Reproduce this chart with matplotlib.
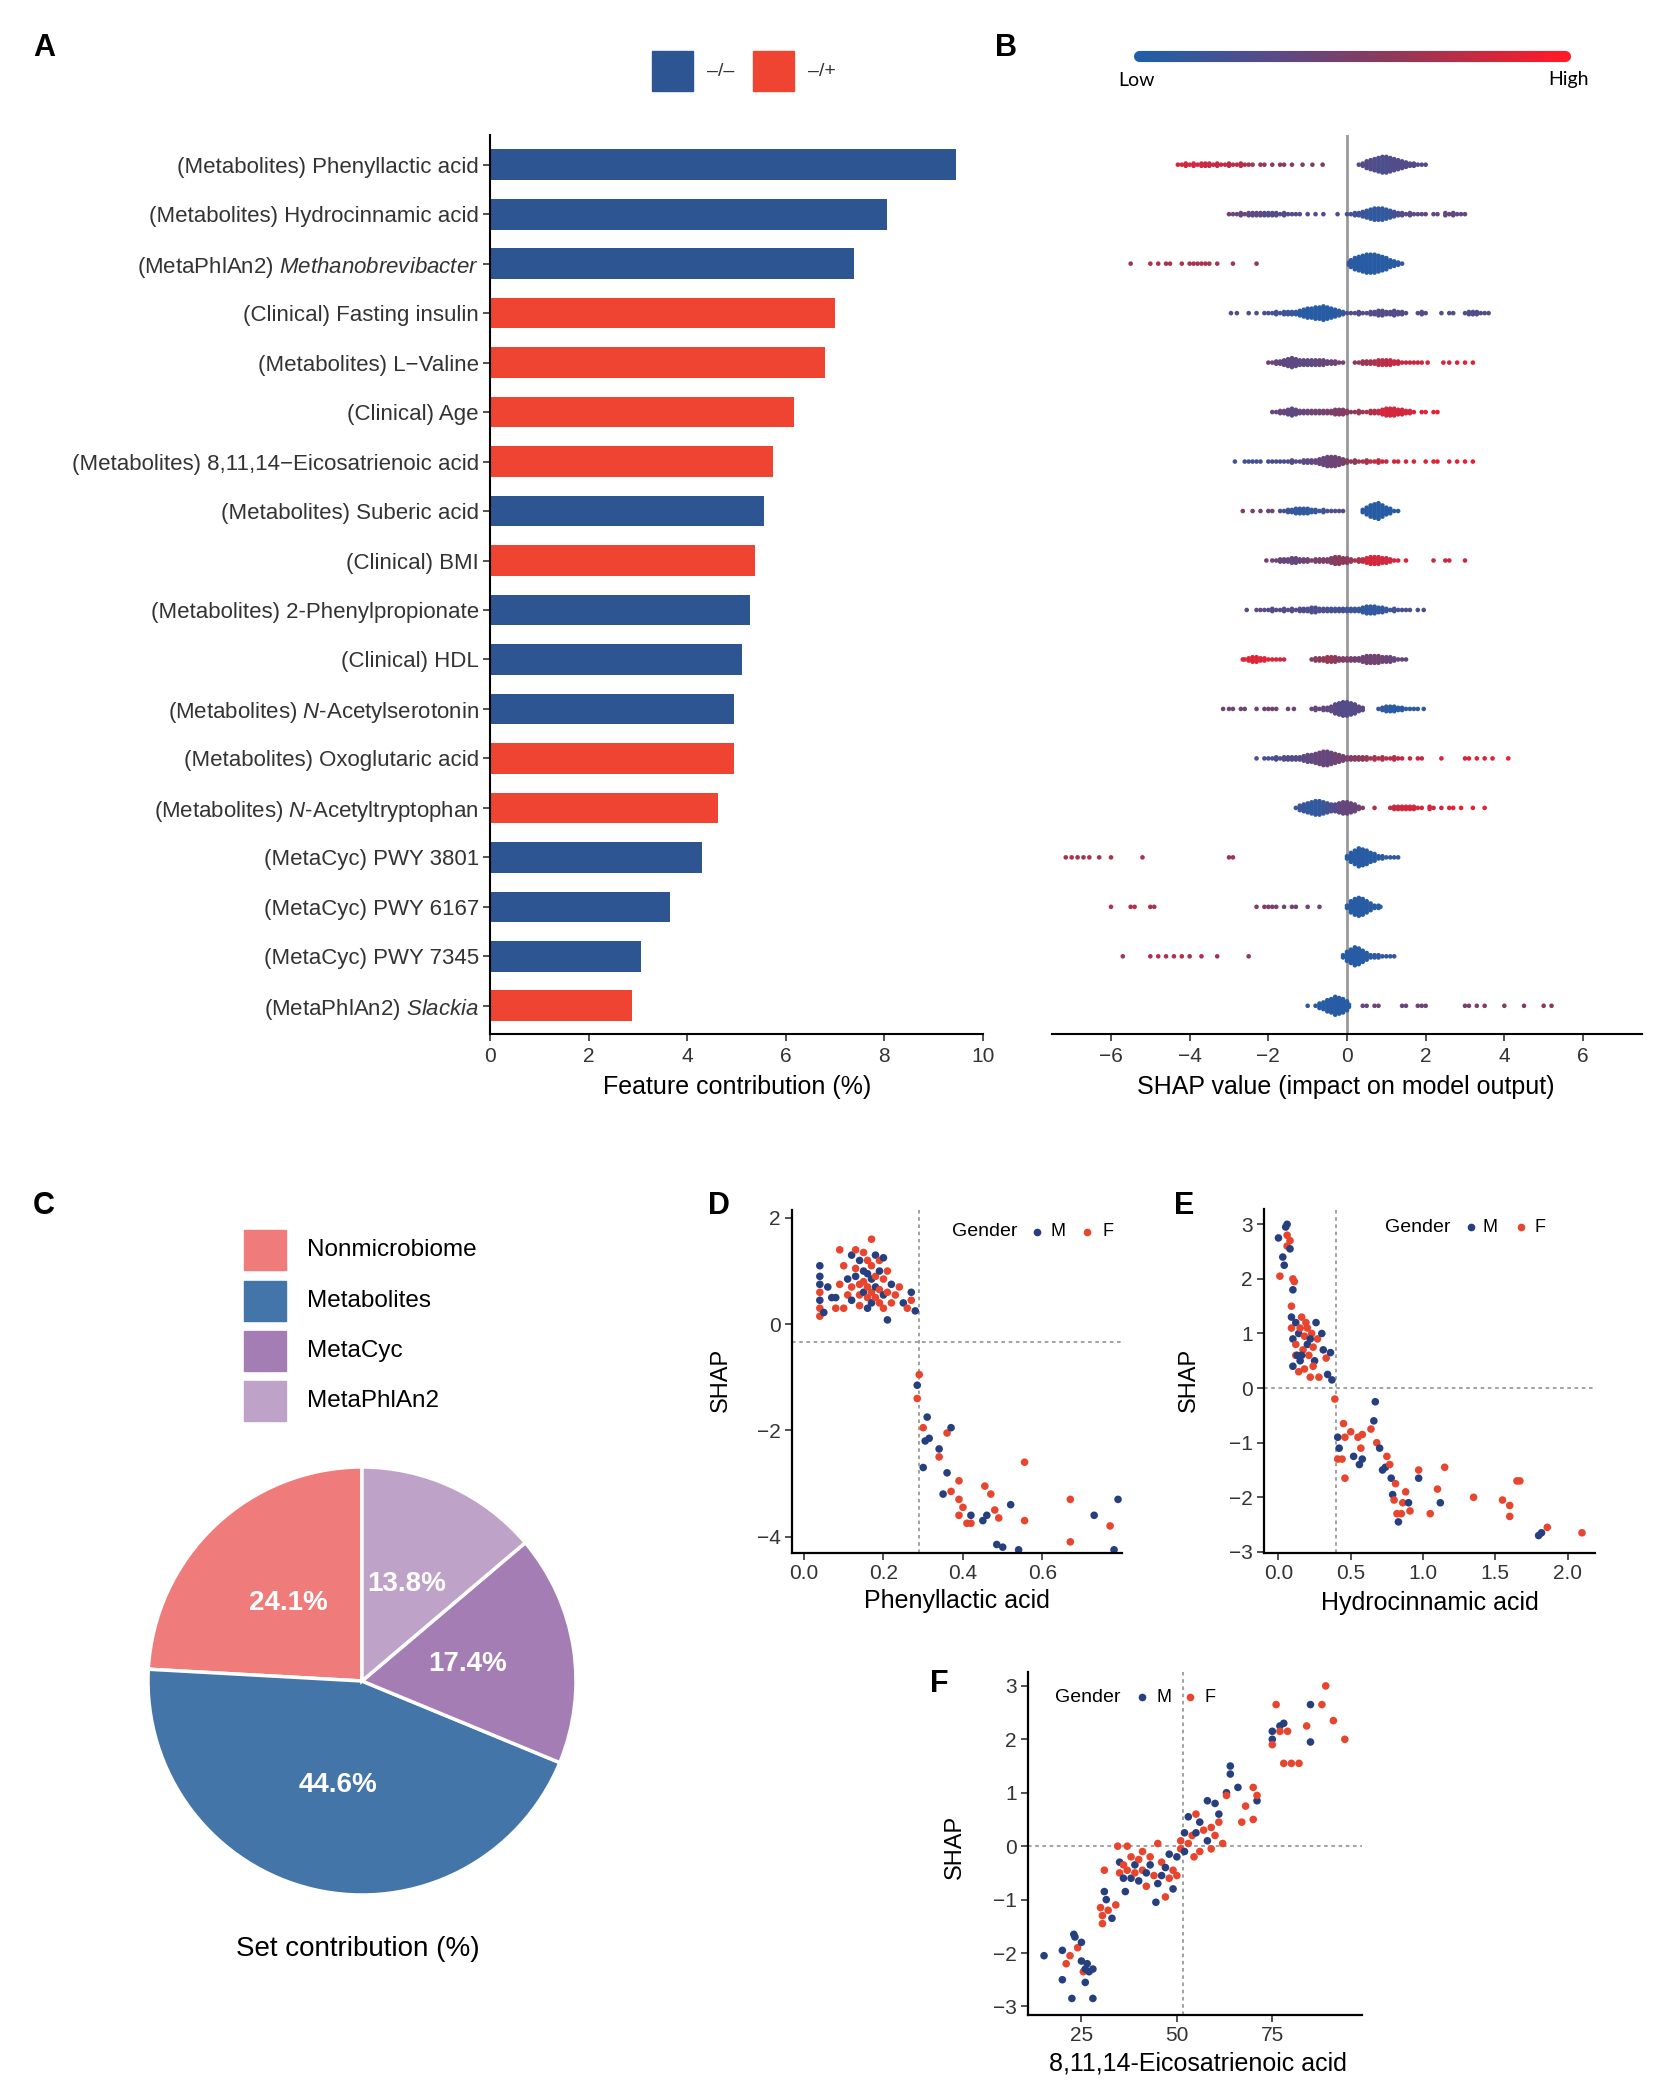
import numpy as np
import matplotlib
matplotlib.use("Agg")
import matplotlib.pyplot as plt
from matplotlib.colors import LinearSegmentedColormap
from matplotlib.patches import Rectangle
from matplotlib.collections import LineCollection
from matplotlib.lines import Line2D

plt.rcParams['font.family'] = ['Liberation Sans', 'DejaVu Sans']
plt.rcParams['mathtext.fontset'] = 'custom'
plt.rcParams['mathtext.rm'] = 'Liberation Sans'
plt.rcParams['mathtext.it'] = 'Liberation Sans:italic'

# ---------------- Panel A data ----------------
features = [
    "(Metabolites) Phenyllactic acid",
    "(Metabolites) Hydrocinnamic acid",
    r"(MetaPhlAn2) $\mathit{Methanobrevibacter}$",
    "(Clinical) Fasting insulin",
    "(Metabolites) L\u2212Valine",
    "(Clinical) Age",
    "(Metabolites) 8,11,14\u2212Eicosatrienoic acid",
    "(Metabolites) Suberic acid",
    "(Clinical) BMI",
    "(Metabolites) 2-Phenylpropionate",
    "(Clinical) HDL",
    r"(Metabolites) $\mathit{N}$-Acetylserotonin",
    "(Metabolites) Oxoglutaric acid",
    r"(Metabolites) $\mathit{N}$-Acetyltryptophan",
    "(MetaCyc) PWY 3801",
    "(MetaCyc) PWY 6167",
    "(MetaCyc) PWY 7345",
    r"(MetaPhlAn2) $\mathit{Slackia}$",
]
contribution = [9.45, 8.06, 7.39, 7.00, 6.80, 6.16, 5.75, 5.56, 5.37, 5.28,
                5.11, 4.95, 4.95, 4.63, 4.30, 3.65, 3.07, 2.88]
direction = ['-/-', '-/-', '-/-', '-/+', '-/+', '-/+', '-/+', '-/-', '-/+', '-/-',
             '-/-', '-/-', '-/+', '-/+', '-/-', '-/-', '-/-', '-/+']
dir_labels = ['\u2013/\u2013', '\u2013/+']

# ---------------- Panel B data: (SHAP value, number of samples, feature level 0..1) ----------------
shap_rows = [
    [(-4.3,1,.85),(-4.2,1,.85),(-4.1,2,.85),(-4.0,1,.85),(-3.9,2,.85),(-3.8,1,.8),(-3.7,2,.85),(-3.6,2,.8),
     (-3.5,2,.8),(-3.4,1,.8),(-3.3,2,.8),(-3.2,1,.8),(-3.1,1,.8),(-3.0,2,.75),(-2.9,1,.75),(-2.8,1,.75),
     (-2.7,2,.75),(-2.6,1,.75),(-2.5,1,.7),(-2.4,1,.7),(-2.2,1,.65),(-2.1,1,.65),(-1.9,1,.6),(-1.7,1,.6),
     (-1.6,1,.55),(-1.4,1,.55),(-1.13,1,.5),(-0.88,1,.5),(-0.62,1,.5),
     (0.3,1,.3),(0.4,2,.3),(0.5,4,.3),(0.6,5,.28),(0.7,6,.28),(0.8,7,.25),(0.9,8,.25),(1.0,8,.25),
     (1.1,7,.28),(1.2,6,.28),(1.3,5,.3),(1.4,4,.3),(1.5,3,.3),(1.6,2,.3),(1.7,2,.3),(1.8,1,.3),(1.9,1,.3),
     (2.0,1,.3)],
    [(-3.0,1,.45),(-2.9,1,.45),(-2.8,1,.4),(-2.7,2,.4),(-2.6,1,.4),(-2.5,2,.35),(-2.4,2,.35),(-2.3,2,.35),
     (-2.2,2,.35),(-2.1,2,.3),(-2.0,2,.3),(-1.9,2,.3),(-1.8,2,.3),(-1.7,1,.3),(-1.6,2,.3),(-1.5,1,.3),
     (-1.4,1,.3),(-1.3,1,.3),(-1.2,1,.3),(-1.0,1,.3),(-0.8,1,.3),(-0.6,1,.3),(-0.24,1,.3),
     (0.0,1,.25),(0.1,1,.2),(0.2,2,.2),(0.3,2,.2),(0.4,3,.15),(0.5,4,.15),(0.6,5,.1),(0.7,6,.1),(0.8,6,.1),
     (0.9,6,.1),(1.0,5,.1),(1.1,4,.15),(1.2,3,.2),(1.3,2,.25),(1.4,2,.3),(1.5,1,.3),(1.6,2,.35),(1.7,1,.35),
     (1.8,1,.35),(1.9,1,.35),(2.0,1,.4),(2.2,1,.35),(2.3,1,.4),(2.5,2,.35),(2.6,1,.4),(2.7,2,.35),
     (2.8,1,.4),(2.9,1,.35),(3.0,1,.4)],
    [(-5.5,1,.65),(-5.0,1,.7),(-4.8,1,.7),(-4.6,1,.7),(-4.5,1,.7),(-4.2,1,.7),(-4.0,1,.7),(-3.9,1,.7),
     (-3.8,1,.7),(-3.7,1,.7),(-3.6,1,.7),(-3.5,1,.7),(-3.3,1,.7),(-2.9,1,.65),(-2.3,1,.6),
     (0.05,2,.1),(0.1,4,.1),(0.2,6,.05),(0.3,7,.05),(0.4,8,.05),(0.5,9,.05),(0.6,9,.05),(0.7,9,.05),
     (0.8,8,.05),(0.9,7,.05),(1.0,6,.05),(1.1,4,.05),(1.2,3,.05),(1.3,2,.1),(1.4,1,.1)],
    [(-2.95,1,.3),(-2.8,1,.3),(-2.5,1,.3),(-2.3,1,.25),(-2.1,1,.25),(-2.0,1,.25),(-1.9,1,.25),(-1.8,2,.2),
     (-1.7,1,.2),(-1.6,2,.2),(-1.5,2,.15),(-1.4,2,.15),(-1.3,2,.1),(-1.2,3,.05),(-1.1,4,.05),(-1.0,5,.05),
     (-0.9,5,.05),(-0.8,6,.05),(-0.7,6,.05),(-0.6,7,.05),(-0.5,6,.05),(-0.4,5,.05),(-0.3,4,.05),
     (-0.2,3,.1),(-0.1,2,.1),
     (0.0,1,.25),(0.1,1,.3),(0.2,1,.3),(0.3,2,.3),(0.4,1,.3),(0.5,1,.3),(0.6,2,.3),(0.7,2,.3),(0.8,3,.3),
     (0.9,3,.3),(1.0,2,.3),(1.1,2,.3),(1.2,3,.3),(1.3,2,.3),(1.4,2,.3),(1.5,1,.3),(1.8,1,.3),(1.9,2,.3),
     (2.0,1,.3),(2.4,1,.25),(2.6,1,.3),(2.7,1,.3),(3.0,1,.25),(3.1,2,.3),(3.2,2,.25),(3.3,2,.3),
     (3.4,1,.3),(3.5,1,.25),(3.6,1,.3)],
    [(-2.0,1,.45),(-1.9,1,.45),(-1.8,2,.4),(-1.7,2,.4),(-1.6,3,.35),(-1.5,4,.35),(-1.4,5,.35),(-1.3,4,.35),
     (-1.2,3,.35),(-1.1,3,.35),(-1.0,3,.35),(-0.9,3,.35),(-0.8,3,.35),(-0.7,3,.4),(-0.6,3,.4),(-0.5,2,.4),
     (-0.4,2,.4),(-0.3,2,.45),(-0.2,1,.45),(-0.1,1,.45),
     (0.2,1,.6),(0.3,1,.6),(0.4,2,.65),(0.5,2,.65),(0.6,2,.7),(0.7,2,.7),(0.8,3,.75),(0.9,3,.75),
     (1.0,3,.75),(1.1,3,.8),(1.2,2,.8),(1.3,2,.8),(1.4,1,.8),(1.5,1,.8),(1.6,1,.8),(1.7,1,.8),(1.8,1,.8),
     (1.9,1,.85),(2.05,1,.85),(2.45,1,.85),(2.6,1,.85),(2.8,1,.85),(3.0,1,.9),(3.2,1,.9)],
    [(-1.9,1,.4),(-1.8,1,.4),(-1.7,2,.4),(-1.6,2,.4),(-1.5,3,.35),(-1.4,4,.35),(-1.3,3,.35),(-1.2,2,.4),
     (-1.1,2,.4),(-1.0,2,.4),(-0.9,2,.45),(-0.8,2,.45),(-0.7,2,.45),(-0.6,2,.45),(-0.5,2,.5),(-0.4,2,.5),
     (-0.3,3,.5),(-0.2,3,.55),(-0.1,3,.55),(0.0,2,.55),(0.1,1,.6),(0.2,1,.6),(0.3,2,.65),(0.4,1,.65),
     (0.5,1,.7),(0.6,2,.7),(0.7,2,.75),(0.8,2,.75),(0.9,3,.85),(1.0,4,.85),(1.1,4,.85),(1.2,4,.85),
     (1.3,3,.85),(1.4,3,.85),(1.5,2,.85),(1.6,2,.85),(1.7,1,.85),(1.9,1,.85),(2.0,1,.9),(2.2,1,.9),
     (2.3,1,.9)],
    [(-2.85,1,.2),(-2.6,1,.2),(-2.5,1,.2),(-2.4,1,.2),(-2.3,1,.2),(-2.2,1,.2),(-2.0,1,.2),(-1.9,1,.25),
     (-1.8,1,.25),(-1.7,1,.25),(-1.6,1,.25),(-1.5,1,.3),(-1.4,2,.3),(-1.3,1,.3),(-1.2,1,.3),(-1.1,2,.35),
     (-1.0,2,.35),(-0.9,2,.35),(-0.8,2,.4),(-0.7,3,.4),(-0.6,4,.4),(-0.5,5,.4),(-0.4,5,.45),(-0.3,5,.45),
     (-0.2,4,.45),(-0.1,3,.5),(0.0,2,.55),(0.1,1,.6),(0.2,2,.6),(0.3,1,.65),(0.4,1,.7),(0.5,2,.7),
     (0.6,1,.75),(0.7,1,.75),(0.8,2,.8),(0.9,1,.8),(1.0,1,.8),(1.2,1,.85),(1.3,1,.85),(1.5,1,.85),
     (1.7,1,.85),(2.0,1,.9),(2.2,1,.9),(2.3,1,.9),(2.6,1,.9),(2.8,1,.9),(3.0,1,.95),(3.2,1,.95)],
    [(-2.65,1,.5),(-2.4,1,.5),(-2.2,1,.45),(-2.0,1,.45),(-1.9,1,.4),(-1.7,1,.3),(-1.6,1,.2),(-1.5,2,.15),
     (-1.4,2,.15),(-1.3,3,.1),(-1.2,3,.1),(-1.1,3,.1),(-1.0,3,.1),(-0.9,2,.1),(-0.8,2,.15),(-0.7,1,.15),
     (-0.6,2,.2),(-0.5,1,.2),(-0.4,1,.25),(-0.3,1,.25),(-0.2,1,.3),(-0.1,1,.3),
     (0.4,2,.05),(0.5,4,.05),(0.6,6,.05),(0.7,7,.05),(0.8,8,.05),(0.9,6,.05),(1.0,4,.05),(1.1,3,.05),
     (1.2,1,.05),(1.3,1,.05)],
    [(-2.05,1,.45),(-1.9,1,.45),(-1.8,1,.45),(-1.7,2,.4),(-1.6,2,.4),(-1.5,2,.4),(-1.4,3,.4),(-1.3,3,.4),
     (-1.2,2,.4),(-1.1,2,.45),(-1.0,2,.45),(-0.9,1,.5),(-0.8,2,.5),(-0.7,2,.5),(-0.6,2,.5),(-0.5,2,.55),
     (-0.4,3,.55),(-0.3,4,.55),(-0.2,4,.6),(-0.1,3,.6),(0.0,3,.6),(0.1,2,.65),(0.2,1,.65),(0.3,2,.7),
     (0.4,2,.75),(0.5,3,.85),(0.6,4,.85),(0.7,4,.85),(0.8,4,.85),(0.9,3,.85),(1.0,3,.85),(1.1,2,.85),
     (1.2,1,.85),(1.3,1,.85),(1.5,1,.85),(2.2,1,.8),(2.5,1,.8),(2.6,1,.8),(3.0,1,.8)],
    [(-2.55,1,.35),(-2.3,1,.35),(-2.2,1,.35),(-2.1,1,.35),(-2.0,1,.3),(-1.9,2,.3),(-1.8,1,.3),(-1.7,1,.3),
     (-1.6,2,.3),(-1.5,1,.3),(-1.4,2,.3),(-1.3,1,.3),(-1.2,2,.3),(-1.1,2,.3),(-1.0,2,.25),(-0.9,3,.25),
     (-0.8,3,.25),(-0.7,2,.25),(-0.6,2,.25),(-0.5,2,.25),(-0.4,2,.2),(-0.3,2,.2),(-0.2,2,.2),(-0.1,2,.2),
     (0.0,2,.2),(0.1,2,.2),(0.2,2,.15),(0.3,2,.15),(0.4,3,.1),(0.5,4,.1),(0.6,4,.1),(0.7,4,.1),(0.8,3,.1),
     (0.9,3,.1),(1.0,2,.15),(1.1,1,.15),(1.2,2,.2),(1.3,1,.2),(1.4,1,.2),(1.5,1,.25),(1.6,1,.25),
     (1.8,1,.25),(1.95,1,.25)],
    [(-2.65,1,.9),(-2.6,1,.9),(-2.5,2,.9),(-2.4,3,.9),(-2.3,3,.9),(-2.2,2,.9),(-2.1,2,.9),(-2.0,1,.9),
     (-1.9,1,.9),(-1.8,1,.85),(-1.7,1,.85),(-1.6,1,.85),
     (-0.9,1,.55),(-0.8,2,.55),(-0.7,2,.6),(-0.6,2,.6),(-0.5,3,.65),(-0.4,3,.65),(-0.3,3,.6),(-0.2,2,.55),
     (-0.1,2,.5),(0.0,2,.5),(0.1,2,.5),(0.2,2,.45),(0.3,2,.45),(0.4,3,.45),(0.5,4,.45),(0.6,4,.45),
     (0.7,4,.45),(0.8,4,.45),(0.9,3,.45),(1.0,3,.4),(1.1,3,.4),(1.2,2,.4),(1.3,1,.4),(1.4,1,.4),(1.5,1,.4)],
    [(-3.15,1,.45),(-3.0,1,.45),(-2.9,1,.45),(-2.7,1,.45),(-2.6,1,.45),(-2.3,1,.45),(-2.1,1,.45),
     (-2.0,1,.45),(-1.9,1,.45),(-1.8,1,.45),(-1.5,1,.45),(-1.35,1,.45),(-0.9,1,.4),(-0.8,2,.4),(-0.7,1,.4),
     (-0.6,2,.4),(-0.5,2,.35),(-0.4,3,.35),(-0.3,5,.35),(-0.2,6,.3),(-0.1,7,.3),(0.0,7,.3),(0.1,6,.3),
     (0.2,5,.3),(0.3,3,.35),(0.4,2,.35),
     (0.8,1,.1),(0.9,2,.1),(1.0,3,.1),(1.1,3,.05),(1.2,3,.05),(1.3,2,.05),(1.4,2,.05),(1.5,1,.1),
     (1.6,1,.1),(1.7,1,.1),(1.8,1,.1),(1.95,1,.1)],
    [(-2.3,1,.25),(-2.1,1,.25),(-2.0,1,.25),(-1.9,1,.25),(-1.8,2,.25),(-1.7,1,.25),(-1.6,2,.3),(-1.5,2,.3),
     (-1.4,2,.3),(-1.3,2,.3),(-1.2,2,.3),(-1.1,3,.35),(-1.0,4,.35),(-0.9,4,.35),(-0.8,5,.4),(-0.7,6,.4),
     (-0.6,7,.4),(-0.5,7,.4),(-0.4,6,.4),(-0.3,5,.45),(-0.2,4,.45),(-0.1,3,.45),(0.0,2,.5),(0.1,2,.55),
     (0.2,2,.55),(0.3,2,.6),(0.4,2,.6),(0.5,2,.65),(0.6,1,.65),(0.7,2,.7),(0.8,1,.7),(0.9,2,.7),(1.0,1,.75),
     (1.1,1,.75),(1.2,2,.75),(1.3,1,.75),(1.4,1,.8),(1.6,1,.8),(1.8,1,.8),(1.9,1,.8),(2.4,1,.85),
     (3.0,1,.85),(3.1,1,.9),(3.3,1,.9),(3.5,1,.9),(3.7,1,.9),(4.1,1,.95)],
    [(-1.3,1,.15),(-1.2,3,.15),(-1.1,4,.15),(-1.0,5,.1),(-0.9,6,.1),(-0.8,7,.1),(-0.7,7,.1),(-0.6,6,.15),
     (-0.5,5,.2),(-0.4,4,.25),(-0.3,4,.3),(-0.2,5,.35),(-0.1,6,.4),(0.0,6,.4),(0.1,5,.4),(0.2,4,.4),
     (0.3,2,.45),(0.4,1,.5),(0.7,1,.7),(1.1,1,.8),(1.2,2,.8),(1.3,2,.8),(1.4,2,.85),(1.5,2,.85),(1.6,2,.85),
     (1.7,2,.85),(1.8,1,.85),(1.9,1,.85),(2.1,2,.85),(2.2,1,.85),(2.4,1,.85),(2.6,1,.9),(2.7,1,.9),
     (2.9,1,.9),(3.2,1,.9),(3.5,1,.9)],
    [(-7.15,1,.7),(-7.0,1,.75),(-6.85,1,.7),(-6.7,1,.7),(-6.55,1,.75),(-6.3,1,.7),(-6.0,1,.7),(-5.2,1,.7),
     (-3.0,1,.65),(-2.9,1,.65),(0.0,2,.05),(0.1,5,.05),(0.2,7,.05),(0.3,9,.05),(0.4,8,.05),(0.5,7,.05),
     (0.6,5,.05),(0.7,4,.05),(0.8,2,.05),(0.9,2,.1),(1.0,1,.1),(1.1,1,.1),(1.2,1,.1),(1.3,1,.15)],
    [(-6.0,1,.7),(-5.5,1,.7),(-5.4,1,.75),(-5.0,1,.7),(-4.9,1,.7),(-2.3,1,.55),(-2.1,1,.55),(-2.0,1,.5),
     (-1.9,1,.5),(-1.8,1,.5),(-1.6,1,.45),(-1.4,1,.45),(-1.3,1,.45),(-1.0,1,.4),(-0.7,1,.4),(0.0,2,.05),
     (0.1,6,.05),(0.2,8,.05),(0.3,9,.05),(0.4,8,.05),(0.5,6,.05),(0.6,4,.05),(0.7,2,.05),(0.8,2,.05),
     (0.85,1,.05)],
    [(-5.7,1,.7),(-5.0,1,.7),(-4.8,1,.75),(-4.6,1,.7),(-4.4,1,.7),(-4.2,1,.75),(-4.0,1,.7),(-3.7,1,.7),
     (-3.3,1,.65),(-2.5,1,.6),(-0.1,2,.05),(0.0,5,.05),(0.1,7,.05),(0.2,9,.05),(0.3,8,.05),(0.4,6,.05),
     (0.5,4,.05),(0.6,2,.05),(0.7,2,.1),(0.8,2,.1),(0.9,1,.1),(1.0,1,.1),(1.1,1,.1),(1.2,1,.1)],
    [(-1.0,1,.1),(-0.8,1,.05),(-0.7,3,.05),(-0.6,4,.05),(-0.5,6,.05),(-0.4,7,.05),(-0.3,9,.05),
     (-0.2,8,.05),(-0.1,7,.05),(0.0,5,.05),(0.05,2,.05),(0.4,1,.4),(0.5,1,.4),(0.7,1,.45),(0.8,1,.45),
     (1.4,1,.4),(1.5,1,.4),(1.8,1,.45),(1.9,1,.45),(2.0,1,.45),(3.0,1,.5),(3.1,1,.5),(3.3,1,.5),
     (3.5,1,.55),(4.0,1,.55),(4.5,1,.55),(5.0,1,.6),(5.2,1,.6)],
]

# ---------------- Panel C data ----------------
set_names = ["Nonmicrobiome", "Metabolites", "MetaCyc", "MetaPhlAn2"]
set_pct = [24.1, 44.6, 17.4, 13.8]
set_colors = ["#f07b7b", "#4375a8", "#a57db5", "#bfa2c8"]

# ---------------- Panels D/E/F data: (feature value, SHAP, gender) ----------------
phenyllactic_points = [
    (0.04,1.10,'M'),(0.04,0.90,'M'),(0.04,0.75,'M'),(0.04,0.60,'F'),(0.04,0.45,'M'),(0.04,0.30,'F'),
    (0.04,0.15,'F'),(0.05,0.22,'M'),(0.06,0.70,'M'),(0.07,0.50,'M'),(0.08,0.50,'M'),(0.08,0.30,'F'),
    (0.09,0.75,'F'),(0.09,1.40,'F'),(0.10,1.10,'F'),(0.10,0.30,'F'),(0.11,0.85,'M'),(0.11,0.55,'F'),
    (0.12,1.30,'M'),(0.12,0.70,'F'),(0.12,0.45,'M'),(0.13,1.40,'F'),(0.13,1.05,'F'),(0.13,0.90,'M'),
    (0.14,1.20,'M'),(0.14,0.75,'F'),(0.14,0.55,'F'),(0.14,0.35,'F'),(0.15,1.35,'F'),(0.15,1.00,'M'),
    (0.15,0.80,'F'),(0.15,0.60,'M'),(0.16,1.20,'F'),(0.16,0.95,'M'),(0.16,0.70,'F'),(0.16,0.50,'F'),
    (0.16,0.30,'M'),(0.17,1.60,'F'),(0.17,1.10,'F'),(0.17,0.85,'M'),(0.17,0.60,'F'),(0.17,0.40,'M'),
    (0.18,1.30,'M'),(0.18,0.90,'F'),(0.18,0.70,'M'),(0.18,0.50,'F'),(0.19,1.20,'F'),(0.19,1.00,'M'),
    (0.19,0.65,'F'),(0.19,0.40,'F'),(0.20,1.25,'M'),(0.20,0.85,'F'),(0.20,0.55,'M'),(0.20,0.30,'F'),
    (0.21,1.00,'F'),(0.21,0.60,'F'),(0.21,0.08,'M'),(0.22,0.75,'M'),(0.22,0.40,'F'),(0.23,0.55,'F'),
    (0.24,0.70,'F'),(0.25,0.40,'M'),(0.26,0.30,'F'),(0.27,0.60,'M'),(0.27,0.45,'F'),(0.28,0.25,'M'),
    (0.29,-0.95,'F'),(0.285,-1.15,'M'),(0.285,-1.40,'F'),(0.31,-1.75,'M'),(0.30,-1.95,'F'),(0.305,-2.20,'M'),
    (0.315,-2.15,'M'),(0.30,-2.70,'M'),(0.34,-2.35,'M'),(0.34,-2.50,'F'),(0.36,-2.05,'F'),(0.37,-1.95,'M'),
    (0.36,-2.80,'M'),(0.35,-3.20,'M'),(0.37,-3.15,'F'),(0.39,-2.95,'F'),(0.39,-3.30,'F'),(0.40,-3.45,'F'),
    (0.39,-3.60,'F'),(0.42,-3.60,'M'),(0.41,-3.75,'F'),(0.42,-3.75,'F'),(0.45,-3.70,'M'),(0.46,-3.60,'M'),
    (0.455,-3.05,'F'),(0.47,-3.20,'F'),(0.48,-3.50,'F'),(0.49,-3.65,'F'),(0.485,-4.15,'M'),(0.50,-4.20,'M'),
    (0.52,-3.40,'M'),(0.54,-4.25,'M'),(0.555,-2.60,'F'),(0.555,-3.70,'F'),(0.67,-3.30,'F'),(0.67,-4.10,'F'),
    (0.73,-3.60,'M'),(0.79,-3.30,'M'),(0.77,-3.80,'F'),(0.78,-4.25,'M'),
]
hydrocinnamic_points = [
    (0.00,2.75,'M'),(0.01,2.05,'F'),(0.03,2.40,'M'),(0.04,2.25,'M'),(0.05,2.95,'M'),(0.06,3.00,'M'),
    (0.06,2.80,'F'),(0.06,2.60,'F'),(0.08,2.70,'F'),(0.08,2.55,'M'),(0.10,2.00,'F'),(0.10,1.80,'M'),
    (0.11,1.95,'F'),(0.09,1.50,'F'),(0.09,1.30,'M'),(0.09,1.10,'F'),(0.10,0.90,'M'),(0.10,0.40,'M'),
    (0.12,0.60,'F'),(0.12,1.20,'M'),(0.12,0.80,'F'),(0.14,0.30,'F'),(0.14,1.00,'M'),(0.15,0.50,'M'),
    (0.16,1.30,'F'),(0.17,0.70,'F'),(0.18,0.95,'F'),(0.18,0.35,'F'),(0.20,1.10,'F'),(0.20,0.80,'M'),
    (0.21,0.60,'F'),(0.22,0.20,'F'),(0.23,1.00,'F'),(0.24,0.75,'F'),(0.25,0.50,'M'),(0.26,1.20,'M'),
    (0.27,0.90,'F'),(0.28,0.20,'F'),(0.30,1.00,'M'),(0.31,0.70,'M'),(0.33,0.55,'F'),(0.34,0.25,'M'),
    (0.36,0.65,'M'),(0.37,0.15,'M'),(0.16,0.60,'M'),(0.19,1.20,'F'),(0.22,0.90,'M'),(0.24,0.40,'F'),
    (0.13,0.60,'M'),(0.15,1.10,'F'),
    (0.39,-0.20,'F'),(0.41,-0.90,'M'),(0.42,-1.10,'M'),(0.41,-1.30,'F'),(0.44,-1.30,'F'),(0.45,-0.65,'F'),
    (0.46,-0.90,'F'),(0.46,-1.65,'F'),(0.50,-0.80,'F'),(0.52,-1.25,'M'),(0.55,-0.90,'F'),(0.56,-1.40,'M'),
    (0.57,-1.10,'F'),(0.58,-0.85,'F'),(0.58,-1.30,'M'),(0.64,-0.75,'F'),(0.66,-0.60,'M'),(0.67,-0.25,'M'),
    (0.68,-1.00,'F'),(0.70,-1.10,'M'),(0.72,-1.50,'M'),(0.74,-1.45,'M'),(0.75,-1.25,'F'),(0.77,-1.40,'F'),
    (0.78,-1.65,'M'),(0.79,-1.95,'M'),(0.80,-2.05,'F'),(0.81,-1.75,'F'),(0.82,-2.30,'F'),(0.83,-2.45,'M'),
    (0.85,-2.30,'F'),(0.86,-2.10,'F'),(0.88,-1.90,'F'),(0.90,-2.10,'M'),(0.91,-2.25,'F'),(0.97,-1.50,'F'),
    (0.97,-1.65,'M'),(1.05,-2.30,'F'),(1.10,-1.85,'F'),(1.12,-2.10,'M'),(1.15,-1.45,'F'),(1.35,-2.00,'F'),
    (1.55,-2.05,'F'),(1.60,-2.15,'F'),(1.60,-2.35,'F'),(1.65,-1.70,'F'),(1.67,-1.70,'F'),(1.80,-2.70,'M'),
    (1.82,-2.65,'M'),(1.86,-2.55,'F'),(2.10,-2.65,'F'),
]
eicosatrienoic_points = [
    (15.2,-2.05,'M'),(20,-1.95,'M'),(20,-2.50,'M'),(21,-2.20,'F'),(22,-2.05,'F'),(22.5,-2.85,'M'),
    (23,-1.65,'M'),(23.3,-1.70,'M'),(24,-1.90,'F'),(25,-1.80,'M'),(25,-2.15,'M'),(25.5,-2.35,'F'),
    (26,-2.55,'M'),(26.5,-2.20,'M'),(27,-2.35,'M'),(28,-2.30,'M'),(28,-2.85,'M'),(26,-2.30,'M'),
    (30,-1.15,'F'),(30.5,-1.30,'F'),(30.5,-1.45,'F'),(31,-0.85,'M'),(31.5,-1.00,'M'),(31,-0.45,'F'),
    (32,-1.20,'F'),(33,-1.35,'M'),(34,-1.10,'F'),(34.5,0.00,'F'),(35,-0.30,'M'),(35,-0.50,'F'),
    (36,-0.60,'M'),(36.5,-0.85,'M'),(36,-0.35,'F'),(37,-0.45,'F'),(37,0.00,'F'),(38,-0.20,'F'),
    (38,-0.60,'M'),(39,-0.35,'M'),(39,-0.50,'F'),(40,-0.65,'M'),(40,-0.25,'F'),(41,-0.45,'F'),
    (41,-0.10,'F'),(42,-0.50,'M'),(42,-0.75,'F'),(43,-0.35,'M'),(43,-0.20,'F'),(44,-0.55,'F'),
    (44.5,-1.05,'M'),(45,-0.70,'M'),(45,0.05,'F'),(46,-0.30,'F'),(46,-0.55,'M'),(47,-0.95,'F'),
    (47,-0.40,'M'),(48,-0.60,'F'),(48,-0.15,'M'),(49,-0.80,'M'),(49,-0.45,'F'),(50,-0.20,'M'),
    (50,-0.55,'F'),(51,0.10,'F'),(51,-0.05,'F'),(52,0.25,'M'),(52,-0.10,'M'),(53,0.55,'M'),
    (53,0.05,'F'),(54,0.20,'F'),(54.5,-0.20,'F'),(55,0.25,'M'),(55,0.60,'F'),(56,0.45,'M'),
    (56,-0.10,'F'),(57,0.30,'F'),(58,0.85,'M'),(58,0.10,'M'),(59,0.35,'F'),(59,-0.05,'F'),
    (60,0.80,'M'),(60,0.20,'F'),(61,0.60,'M'),(61,0.45,'F'),(62,0.05,'F'),(63,1.00,'M'),
    (63,0.95,'F'),(64,1.50,'M'),(64,1.35,'M'),(66,1.10,'M'),(67,0.45,'F'),(68,0.75,'F'),
    (70,0.50,'F'),(70,1.10,'F'),(71,0.85,'M'),(71,0.95,'F'),(75,2.00,'M'),(75,2.15,'M'),
    (75,1.90,'F'),(76,2.65,'F'),(77,2.25,'M'),(77,2.15,'F'),(78,2.30,'M'),(78,1.55,'F'),
    (79,2.15,'F'),(80,1.55,'F'),(82,1.55,'F'),(84,2.25,'F'),(85,2.65,'M'),(85,1.95,'M'),
    (88,2.65,'F'),(89,3.00,'F'),(91,2.35,'F'),(94,2.00,'F'),
]

# ---------------- styling ----------------
W, H = 1653, 2100
fig = plt.figure(figsize=(W / 100, H / 100), dpi=100)
BLUE, RED = "#2c5592", "#ee4431"
COL_M, COL_F = "#263f7e", "#e8452f"
TXT = "#333333"


def axpx(x0, y0, x1, y1):
    return fig.add_axes([x0 / W, 1 - y1 / H, (x1 - x0) / W, (y1 - y0) / H])


def ftext(x, y, s, **kw):
    fig.text(x / W, 1 - y / H, s, **kw)


def fdot(x, y, color, ms=4.5):
    fig.add_artist(Line2D([x / W], [1 - y / H], marker='o', ms=ms, color=color,
                          linestyle='none', transform=fig.transFigure))


# panel letters
for letter, (lx, ly) in {'A': (44, 48), 'B': (1006, 48), 'C': (44, 1206),
                         'D': (719, 1206), 'E': (1184, 1206), 'F': (939, 1684)}.items():
    ftext(lx, ly, letter, ha='center', va='center', fontsize=22, fontweight='bold')

# ---------------- Panel A ----------------
axA = axpx(490, 135, 983, 1034)
ypos = np.arange(len(features))
bar_colors = [BLUE if d == '-/-' else RED for d in direction]
axA.barh(ypos, contribution, height=0.62, color=bar_colors)
axA.set_ylim(17.57, -0.6)
axA.set_xlim(0, 10)
axA.set_xticks([0, 2, 4, 6, 8, 10])
axA.set_yticks(ypos)
axA.set_yticklabels(features, fontsize=16, color=TXT)
axA.tick_params(axis='x', labelsize=15, colors=TXT, length=5, width=1.2, pad=4)
axA.tick_params(axis='y', length=5, width=1.2, pad=3, colors=TXT)
for s in ['top', 'right']:
    axA.spines[s].set_visible(False)
for s in ['left', 'bottom']:
    axA.spines[s].set_linewidth(1.5)
ftext(737, 1087, "Feature contribution (%)", ha='center', va='center', fontsize=18)

# legend A
for (x0, col, lab) in [(652, BLUE, dir_labels[0]), (753, RED, dir_labels[1])]:
    fig.add_artist(Rectangle((x0 / W, 1 - 91 / H), 41 / W, 40 / H, color=col,
                             transform=fig.transFigure))
    ftext(x0 + 55, 71, lab, ha='left', va='center', fontsize=14, color=TXT)

# ---------------- Panel B ----------------
cmap = LinearSegmentedColormap.from_list(
    "shap", [(0, "#1f5fa9"), (0.33, "#5a4a86"), (0.6, "#8c3a5a"), (1, "#ff1a2a")])
axB = axpx(1052, 135, 1642, 1034)
d = 0.045
bx, by, bc = [], [], []
for i, row in enumerate(shap_rows):
    for (v, n, c) in row:
        offs = (np.arange(n) - (n - 1) / 2) * d
        for o in offs:
            bx.append(v)
            by.append(i + o)
            bc.append(c)
axB.axvline(0, color='#999999', lw=2, zorder=0)
axB.scatter(bx, by, c=bc, cmap=cmap, vmin=0, vmax=1, s=11, linewidths=0, zorder=2)
axB.set_xlim(-7.5, 7.5)
axB.set_ylim(17.57, -0.6)
axB.set_yticks([])
axB.set_xticks([-6, -4, -2, 0, 2, 4, 6])
axB.tick_params(axis='x', labelsize=15, colors=TXT, length=5, width=1.2, pad=4)
for s in ['top', 'right', 'left']:
    axB.spines[s].set_visible(False)
axB.spines['bottom'].set_linewidth(1.5)
ftext(1346, 1087, "SHAP value (impact on model output)", ha='center', va='center', fontsize=18)

# colour bar
axCB = axpx(1120, 40, 1590, 72)
axCB.set_xlim(1120, 1590)
axCB.set_ylim(0, 1)
axCB.axis('off')
xs = np.linspace(1139, 1565, 200)
segs = [[(xs[k], 0.5), (xs[k + 1], 0.5)] for k in range(len(xs) - 1)]
lc = LineCollection(segs, colors=cmap(np.linspace(0, 1, len(segs))), linewidths=8,
                    capstyle='round')
axCB.add_collection(lc)
ftext(1137, 80, "Low", ha='center', va='center', fontsize=14, family=['Lato', 'DejaVu Sans'])
ftext(1569, 80, "High", ha='center', va='center', fontsize=14, family=['Lato', 'DejaVu Sans'])

# ---------------- Panel C ----------------
axC = axpx(148, 1467, 576, 1895)
axC.pie(set_pct, colors=set_colors, startangle=90, counterclock=True,
        autopct='%.1f%%', pctdistance=0.5,
        wedgeprops=dict(edgecolor='white', linewidth=2.5),
        textprops=dict(color='white', fontsize=20, fontweight='bold'))
axC.set_xlim(-1, 1)
axC.set_ylim(-1, 1)
axC.set_aspect('equal')
ftext(358, 1949, "Set contribution (%)", ha='center', va='center', fontsize=20)
for k, (name, col) in enumerate(zip(set_names, set_colors)):
    y0 = [1230, 1281, 1331, 1381][k]
    fig.add_artist(Rectangle((244 / W, 1 - (y0 + 40) / H), 42 / W, 40 / H, color=col,
                             transform=fig.transFigure))
    ftext(307, y0 + 20, name, ha='left', va='center', fontsize=17.5)


# ---------------- Panels D/E/F ----------------
def dep_panel(rect, pts, xlim, ylim, xticks, xticklabels, yticks, vline, hline,
              xlabel, xlab_pos, ylab_pos, legend):
    ax = axpx(*rect)
    xv = [p[0] for p in pts]
    yv = [p[1] for p in pts]
    cv = [COL_M if p[2] == 'M' else COL_F for p in pts]
    ax.axvline(vline, color='#9a9a9a', lw=1.3, ls=(0, (2, 2)), zorder=0)
    ax.axhline(hline, color='#9a9a9a', lw=1.3, ls=(0, (2, 2)), zorder=0)
    ax.scatter(xv, yv, c=cv, s=30, linewidths=0, zorder=2)
    ax.set_xlim(*xlim)
    ax.set_ylim(*ylim)
    ax.set_xticks(xticks)
    ax.set_xticklabels(xticklabels)
    ax.set_yticks(yticks)
    ax.tick_params(labelsize=15, colors=TXT, length=5, width=1.2, pad=3)
    for s in ['top', 'right']:
        ax.spines[s].set_visible(False)
    for s in ['left', 'bottom']:
        ax.spines[s].set_linewidth(1.6)
    ftext(xlab_pos[0], xlab_pos[1], xlabel, ha='center', va='center', fontsize=18)
    ftext(ylab_pos[0], ylab_pos[1], "SHAP", ha='center', va='center', fontsize=17, rotation=90)
    gx, gy, mdot, mx, fd, fx = legend
    ftext(gx, gy, "Gender", ha='left', va='center', fontsize=14)
    fdot(mdot, gy, COL_M)
    ftext(mx, gy, "M", ha='left', va='center', fontsize=13)
    fdot(fd, gy, COL_F)
    ftext(fx, gy, "F", ha='left', va='center', fontsize=13)
    return ax


dep_panel((792, 1210, 1122, 1553), phenyllactic_points, (-0.03, 0.80), (-4.31, 2.15),
          [0.0, 0.2, 0.4, 0.6], ["0.0", "0.2", "0.4", "0.6"], [-4, -2, 0, 2],
          0.289, -0.33, "Phenyllactic acid", (957, 1601), (721, 1380),
          (952, 1232, 1037, 1051, 1087, 1102))
dep_panel((1264, 1209, 1595, 1553), hydrocinnamic_points, (-0.1, 2.19), (-3.02, 3.28),
          [0.0, 0.5, 1.0, 1.5, 2.0], ["0.0", "0.5", "1.0", "1.5", "2.0"], [-3, -2, -1, 0, 1, 2, 3],
          0.397, 0.0, "Hydrocinnamic acid", (1430, 1603), (1189, 1380),
          (1385, 1227, 1471, 1483, 1521, 1535))
dep_panel((1028, 1672, 1362, 2015), eicosatrienoic_points, (11.0, 98.5), (-3.16, 3.26),
          [25, 50, 75], ["25", "50", "75"], [-3, -2, -1, 0, 1, 2, 3],
          51.5, 0.0, "8,11,14-Eicosatrienoic acid", (1198, 2063), (955, 1847),
          (1055, 1697, 1142, 1156, 1190, 1205))

fig.savefig("out.png", dpi=100)
